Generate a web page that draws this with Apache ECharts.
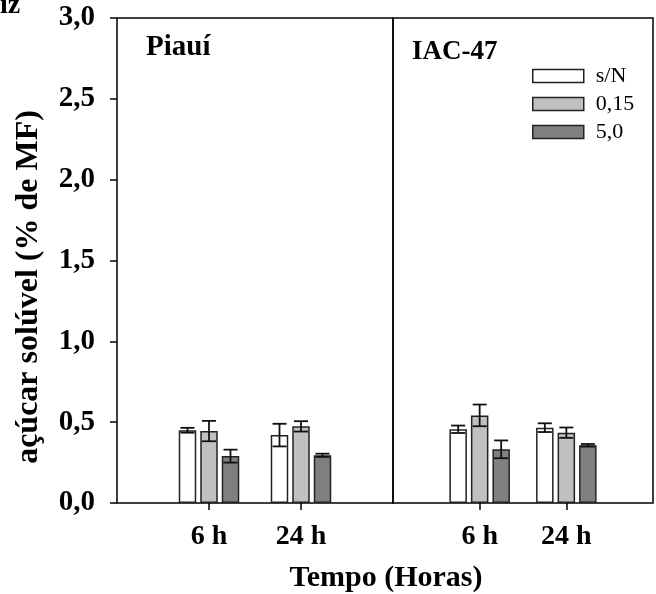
<!DOCTYPE html>
<html>
<head>
<meta charset="utf-8">
<script src="https://cdn.jsdelivr.net/npm/echarts@6/dist/echarts.min.js"></script>
<style>
  html, body { margin: 0; padding: 0; background: #fff; }
  #chart { width: 656px; height: 594px; }
</style>
</head>
<body>
<div id="chart"></div>
<script>
// Sampling times (padded with empty slots so each time sits one third into the panel)
const times = ['', '6 h', '24 h', ''];
const panels = ['Piauí', 'IAC-47'];
const treatments = ['s/N', '0,15', '5,0'];

// Soluble sugar (% of fresh mass), per panel, per treatment: [6 h, 24 h]
const piauiSN = [0.450, 0.420];
const piaui015 = [0.445, 0.474];
const piaui50 = [0.290, 0.295];
const iacSN = [0.456, 0.466];
const iac015 = [0.542, 0.435];
const iac50 = [0.332, 0.357];

// Standard errors, same layout
const piauiSNErr = [0.015, 0.070];
const piaui015Err = [0.063, 0.032];
const piaui50Err = [0.040, 0.010];
const iacSNErr = [0.023, 0.027];
const iac015Err = [0.067, 0.032];
const iac50Err = [0.055, 0.008];

// Y axis ticks
const yTickValues = [0, 0.5, 1, 1.5, 2, 2.5, 3];
const yTickLabels = ['0,0', '0,5', '1,0', '1,5', '2,0', '2,5', '3,0'];

const FONT = 'Liberation Serif';
const fills = ['#ffffff', '#c0c0c0', '#808080'];
const BAR_W = 17.5;
const BAR_GAP = 4;

const panelValues = [[piauiSN, piaui015, piaui50], [iacSN, iac015, iac50]];
const panelErrors = [[piauiSNErr, piaui015Err, piaui50Err], [iacSNErr, iac015Err, iac50Err]];

function padded(arr) { return [null, arr[0], arr[1], null]; }

const series = [];
panelValues.forEach((vals, p) => {
  vals.forEach((arr, k) => {
    series.push({
      name: treatments[k],
      type: 'bar',
      xAxisIndex: p, yAxisIndex: p,
      data: padded(arr),
      barWidth: BAR_W,
      barGap: (BAR_GAP / BAR_W * 100).toFixed(1) + '%',
      itemStyle: { color: fills[k], borderColor: '#222', borderWidth: 1.5 },
      emphasis: { disabled: true },
      animation: false
    });
  });
  vals.forEach((arr, k) => {
    const errs = panelErrors[p][k];
    const offset = (k - 1) * (BAR_W + BAR_GAP);
    series.push({
      type: 'custom',
      xAxisIndex: p, yAxisIndex: p,
      z: 5,
      data: arr.map((v, i) => [i + 1, v, errs[i]]),
      encode: { x: 0, y: 1 },
      renderItem: function (params, api) {
        const x = api.value(0), v = api.value(1), e = api.value(2);
        const hi = api.coord([x, v + e]);
        const lo = api.coord([x, v - e]);
        const cx = hi[0] + offset;
        const cap = 7;
        const st = { stroke: '#111', lineWidth: 1.8 };
        return {
          type: 'group',
          children: [
            { type: 'line', shape: { x1: cx, y1: hi[1], x2: cx, y2: lo[1] }, style: st },
            { type: 'line', shape: { x1: cx - cap, y1: hi[1], x2: cx + cap, y2: hi[1] }, style: st },
            { type: 'line', shape: { x1: cx - cap, y1: lo[1], x2: cx + cap, y2: lo[1] }, style: st }
          ]
        };
      },
      animation: false
    });
  });
});

const gridTop = 18, gridH = 485, panelW = 276, leftEdge = 117;

const option = {
  backgroundColor: '#fff',
  animation: false,
  grid: [0, 1].map(p => ({
    left: leftEdge + p * panelW, top: gridTop, width: panelW, height: gridH,
    show: true, borderColor: '#000', borderWidth: 1.5, backgroundColor: 'transparent'
  })),
  xAxis: [0, 1].map(p => ({
    type: 'category', gridIndex: p, data: times, boundaryGap: false,
    axisLine: { show: false },
    axisTick: { show: true, length: 7, interval: (i) => i === 1 || i === 2, lineStyle: { color: '#000', width: 1.5 } },
    axisLabel: { interval: 0, margin: 20, fontFamily: FONT, fontWeight: 'bold', fontSize: 28, color: '#000' },
    splitLine: { show: false }
  })),
  yAxis: [0, 1].map(p => ({
    type: 'value', gridIndex: p, min: 0, max: 3, interval: 0.5,
    axisLine: { show: false },
    axisTick: { show: p === 0, length: 7, lineStyle: { color: '#000', width: 1.5 } },
    axisLabel: {
      show: p === 0, margin: 22, fontFamily: FONT, fontWeight: 'bold', fontSize: 29, color: '#000',
      formatter: (v) => yTickLabels[yTickValues.indexOf(v)]
    },
    splitLine: { show: false }
  })),
  legend: {
    data: treatments,
    orient: 'vertical', left: 532, top: 65, padding: 0,
    itemWidth: 51, itemHeight: 13, itemGap: 6,
    icon: 'rect',
    itemStyle: { borderColor: '#222', borderWidth: 1.5 },
    textStyle: { fontFamily: FONT, fontSize: 22, color: '#000', padding: [0, 0, 0, 7] },
    selectedMode: false
  },
  graphic: [
    { type: 'text', left: 146, top: 33, style: { text: panels[0], font: 'bold 29px "Liberation Serif"', fill: '#000' } },
    { type: 'text', left: 412, top: 39, style: { text: panels[1], font: 'bold 27px "Liberation Serif"', fill: '#000' } },
    { type: 'text', x: 0, y: -8, style: { text: 'iz', font: 'bold 28px "Liberation Serif"', fill: '#000', verticalAlign: 'top' } },
    { type: 'text', x: 386, y: 578, style: { text: 'Tempo (Horas)', font: 'bold 30px "Liberation Serif"', fill: '#000', align: 'center', verticalAlign: 'middle' } },
    { type: 'text', x: 29, y: 287, rotation: Math.PI / 2, style: { text: 'açúcar solúvel (% de MF)', font: 'bold 32px "Liberation Serif"', fill: '#000', align: 'center', verticalAlign: 'middle' } }
  ],
  series: series
};

const chart = echarts.init(document.getElementById('chart'), null, { renderer: 'canvas' });
chart.setOption(option);
</script>
</body>
</html>
